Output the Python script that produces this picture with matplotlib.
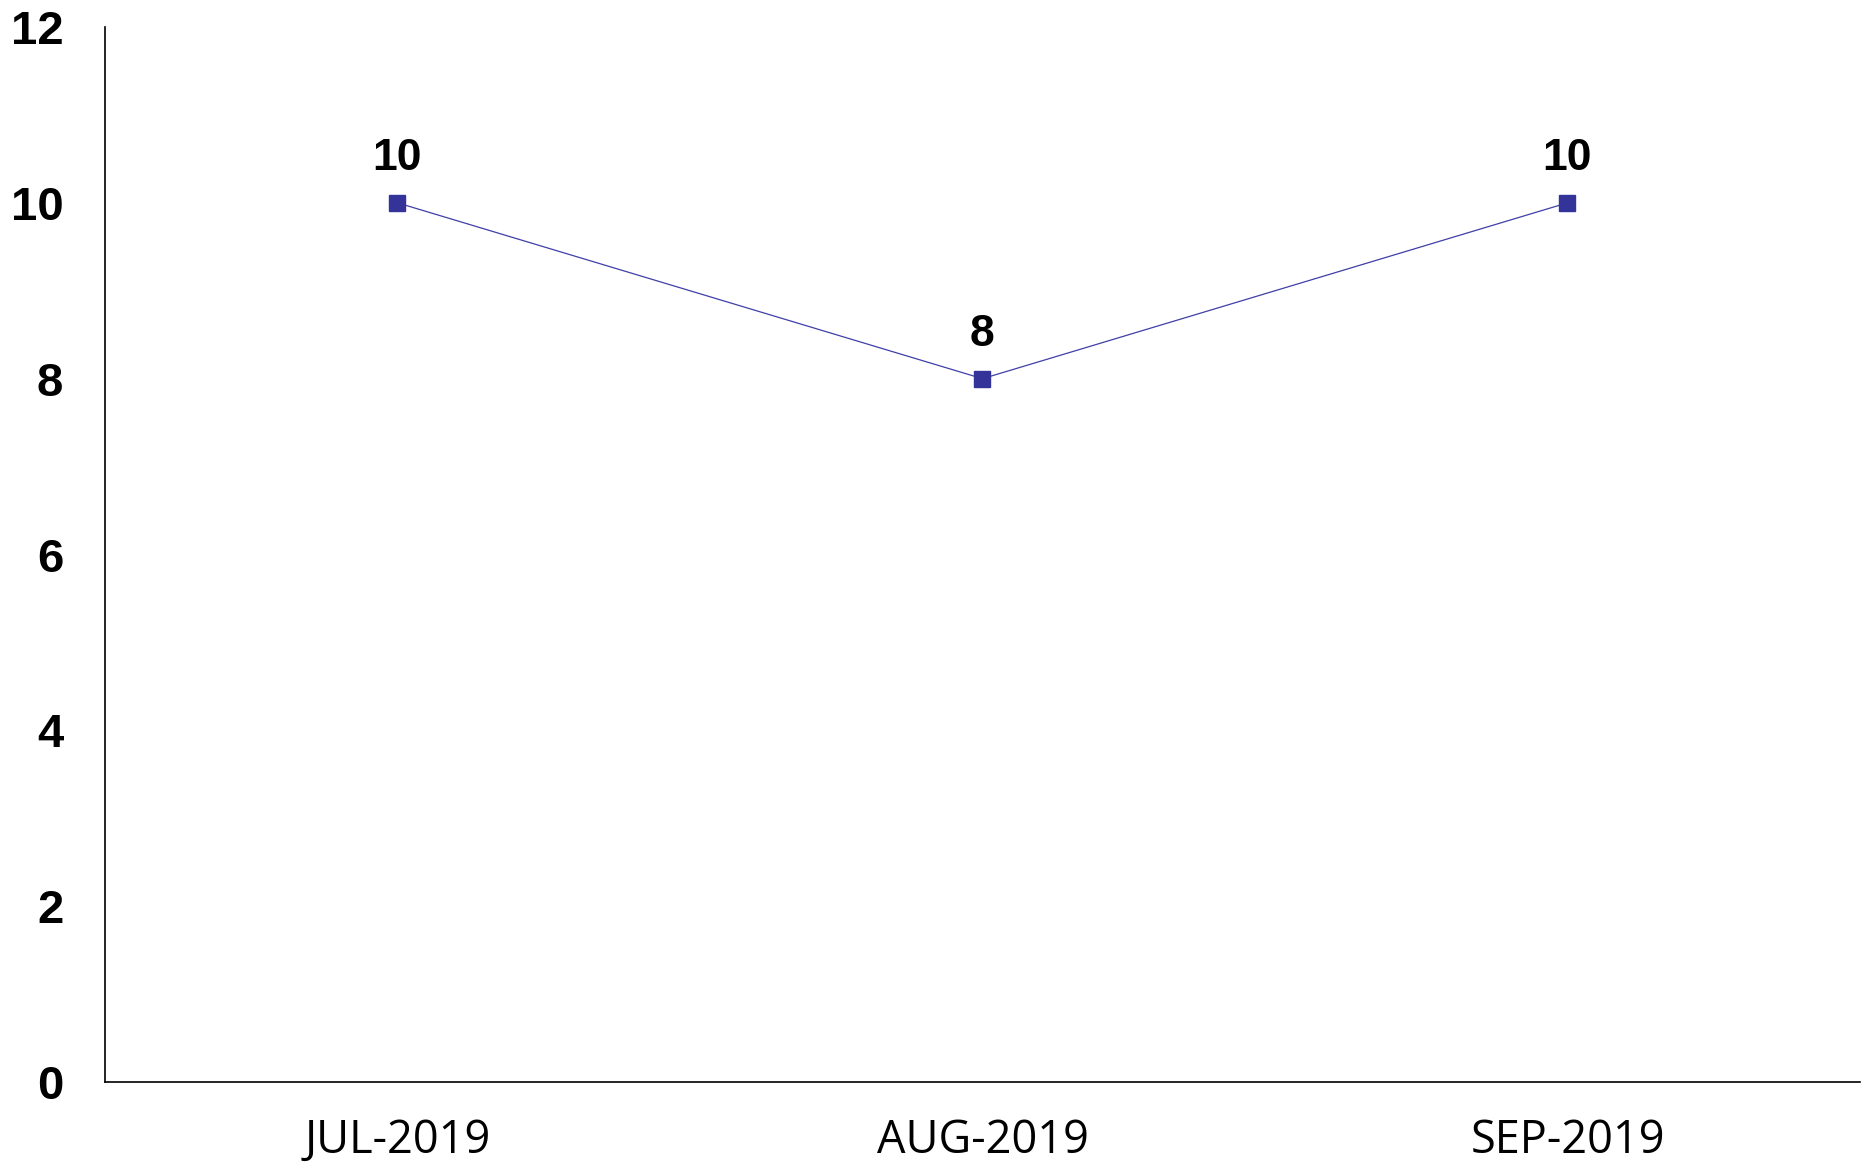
import matplotlib
matplotlib.use("Agg")
import matplotlib.pyplot as plt

categories = ["JUL-2019", "AUG-2019", "SEP-2019"]
values = [10, 8, 10]
yticks = [0, 2, 4, 6, 8, 10, 12]

fig = plt.figure(figsize=(18.62, 11.64), dpi=100)
ax = fig.add_axes([105/1862, 82/1164, (1860-105)/1862, (1082-27)/1164])

x = list(range(len(categories)))
ax.plot(x, values, color="#3f3fa8", linewidth=0.9, marker="s", markersize=11.5,
        markerfacecolor="#333399", markeredgecolor="#333399", zorder=3)
for xi, v in zip(x, values):
    ax.annotate(str(v), (xi, v), xytext=(0, 17), textcoords="offset points",
                ha="center", va="bottom", fontsize=32, fontweight="bold",
                family="Liberation Sans", color="black")

ax.set_xlim(-0.5, 2.5)
ax.set_ylim(0, 12)
ax.set_yticks(yticks)
ax.set_yticklabels([str(t) for t in yticks], fontsize=34, fontweight="bold",
                   family="Liberation Sans")
ax.set_xticks(x)
ax.set_xticklabels(categories, fontsize=32.5, family="Open Sans")
ax.tick_params(axis="y", length=0, pad=30)
ax.tick_params(axis="x", length=0, pad=26)
for s in ["top", "right"]:
    ax.spines[s].set_visible(False)
for s in ["left", "bottom"]:
    ax.spines[s].set_linewidth(1.2)
    ax.spines[s].set_color("black")

fig.savefig("out.png", dpi=100)
